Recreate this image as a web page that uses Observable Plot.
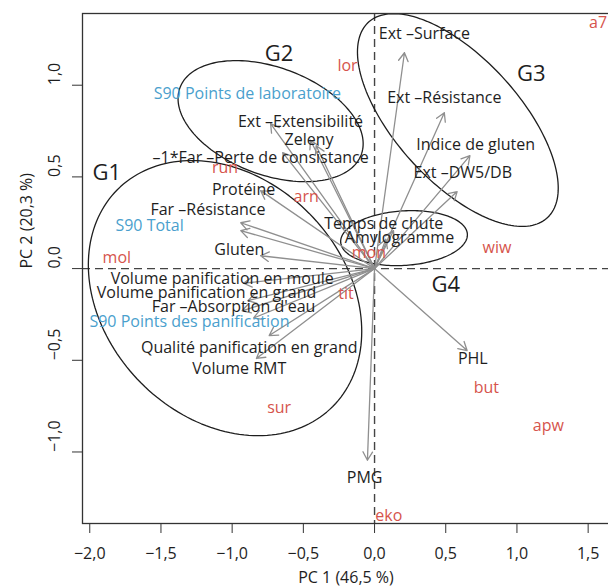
<!DOCTYPE html>
<html><head><meta charset="utf-8">
<script src="https://cdn.jsdelivr.net/npm/d3@7"></script>
<script src="https://cdn.jsdelivr.net/npm/@observablehq/plot@0.6"></script>
<style>html,body{margin:0;padding:0;background:#fff;overflow:hidden;width:608px;height:587px}#chart svg{max-width:none!important;display:block}</style>
</head><body><div id="chart"></div>
<script>
// Variables (loadings): arrow tips and label positions (PC units)
const varNames = ["Ext –Surface","Ext –Résistance","Indice de gluten","Ext –DW5/DB","Temps de chute","Amylogramme",
  "Ext –Extensibilité","Zeleny","–1*Far –Perte de consistance","Protéine","Far –Résistance","Gluten",
  "Volume panification en moule","Volume panification en grand","Far –Absorption d'eau",
  "Qualité panification en grand","Volume RMT","PHL","PMG"];
const varTipX = [0.21, 0.49, 0.67, 0.58, 0.133, 0.08, -0.73, -0.45, -0.645, -0.80, -0.94, -0.80, -0.92, -0.89, -0.93, -0.74, -0.83, 0.65, -0.05];
const varTipY = [1.177, 0.85, 0.616, 0.42, 0.207, 0.16, 0.79, 0.70, 0.632, 0.425, 0.25, 0.07, -0.08, -0.175, -0.23, -0.365, -0.49, -0.447, -1.045];
const varLabX = [0.35, 0.49, 0.71, 0.62, 0.065, 0.175, -0.52, -0.46, -0.80, -0.92, -1.17, -0.95, -1.07, -1.18, -0.99, -0.88, -0.95, 0.69, -0.07];
const varLabY = [1.28, 0.93, 0.676, 0.52, 0.245, 0.17, 0.80, 0.70, 0.605, 0.43, 0.32, 0.10, -0.055, -0.135, -0.21, -0.43, -0.545, -0.49, -1.14];

// Supplementary S90 variables (blue)
const supNames = ["S90 Points de laboratoire","S90 Total","S90 Points des panification"];
const supTipX = [-0.41, -0.94, -0.85];
const supTipY = [0.67, 0.207, -0.27];
const supLabX = [-0.893, -1.58, -1.30];
const supLabY = [0.954, 0.235, -0.29];

// Samples (red)
const sampleNames = ["mol","run","arn","lor","mon","tit","sur","eko","wiw","but","apw","a7"];
const sampleX = [-1.81, -1.05, -0.48, -0.19, -0.04, -0.20, -0.67, 0.10, 0.86, 0.785, 1.22, 1.57];
const sampleY = [0.06, 0.55, 0.39, 1.106, 0.087, -0.14, -0.76, -1.346, 0.115, -0.65, -0.855, 1.34];

// Groups: label positions and ellipse parameters
const groupNames = ["G1","G2","G3","G4"];
const groupLabX = [-1.88, -0.67, 1.10, 0.50];
const groupLabY = [0.52, 1.17, 1.06, -0.09];
const ellCx = [-1.05, -0.73, 0.585, 0.207];
const ellCy = [-0.161, 0.804, 0.81, 0.166];
const ellAx = [0.96, 0.65, 0.705, 0.445];
const ellAy = [0.75, 0.33, 0.58, 0.15];
const ellPhi = [1.815, 1.953, 2.265, 1.45];

// Axis ticks
const xTicks = [-2, -1.5, -1, -0.5, 0, 0.5, 1, 1.5];
const yTicks = [-1, -0.5, 0, 0.5, 1];
const xTitle = "PC 1 (46,5 %)";
const yTitle = "PC 2 (20,3 %)";

const fmt = d => d3.format(".1f")(d).replace("-", "−").replace(".", ",");

const vars = varNames.map((n, i) => ({name: n, tx: varTipX[i], ty: varTipY[i], lx: varLabX[i], ly: varLabY[i]}));
const sups = supNames.map((n, i) => ({name: n, tx: supTipX[i], ty: supTipY[i], lx: supLabX[i], ly: supLabY[i]}));
const samples = sampleNames.map((n, i) => ({name: n, x: sampleX[i], y: sampleY[i]}));
const groups = groupNames.map((n, i) => ({name: n, x: groupLabX[i], y: groupLabY[i]}));
const ellPts = [];
groupNames.forEach((g, i) => {
  for (let k = 0; k < 180; k++) {
    const t = 2 * Math.PI * k / 180;
    ellPts.push({g, x: ellCx[i] + ellAx[i] * Math.cos(t), y: ellCy[i] + ellAy[i] * Math.cos(t - ellPhi[i])});
  }
});

const red = "#d6544c", blue = "#4a9fcd", ink = "#1e1e1e", arrowCol = "#8f8f8f";

const chart = Plot.plot({
  width: 612, height: 587,
  marginLeft: 82, marginRight: 3, marginTop: 13, marginBottom: 64,
  x: {domain: [-2.051, 1.65]},
  y: {domain: [-1.39, 1.391]},
  style: {fontFamily: "'Open Sans', sans-serif", fontSize: "16px", color: ink, background: "white", overflow: "visible"},
  marks: [
    Plot.ruleX([0], {stroke: "#444", strokeWidth: 1.4, strokeDasharray: "8,5"}),
    Plot.ruleY([0], {stroke: "#444", strokeWidth: 1.4, strokeDasharray: "8,5"}),
    Plot.line(ellPts, {x: "x", y: "y", z: "g", curve: "linear-closed", stroke: ink, strokeWidth: 1.3}),
    Plot.arrow(vars.concat(sups), {x1: d => 0, y1: d => 0, x2: "tx", y2: "ty", stroke: arrowCol, strokeWidth: 1.3, headLength: 11}),
    Plot.text(vars, {x: "lx", y: "ly", text: "name", fill: ink, fontSize: 16}),
    Plot.text(sups, {x: "lx", y: "ly", text: "name", fill: blue, fontSize: 16}),
    Plot.text(samples, {x: "x", y: "y", text: "name", fill: red, fontSize: 16}),
    Plot.text(groups, {x: "x", y: "y", text: "name", fill: ink, fontSize: 22}),
    Plot.frame({stroke: "#333", strokeWidth: 1.3}),
    Plot.axisX(xTicks, {tickSize: 10, tickPadding: 14, tickFormat: fmt, label: null, stroke: "#333"}),
    Plot.axisY(yTicks, {tickSize: 10, tickFormat: () => "", label: null, stroke: "#333"}),
    Plot.text(yTicks, {y: d => d, frameAnchor: "left", dx: -28, rotate: -90, text: fmt, fill: ink, fontSize: 16}),
    Plot.text([xTitle], {frameAnchor: "bottom", dy: 59, text: d => d, fill: ink, fontSize: 16}),
    Plot.text([yTitle], {frameAnchor: "left", dx: -56, rotate: -90, text: d => d, fill: ink, fontSize: 16})
  ]
});
chart.style.maxWidth = "none";
document.getElementById("chart").appendChild(chart);
</script></body></html>
